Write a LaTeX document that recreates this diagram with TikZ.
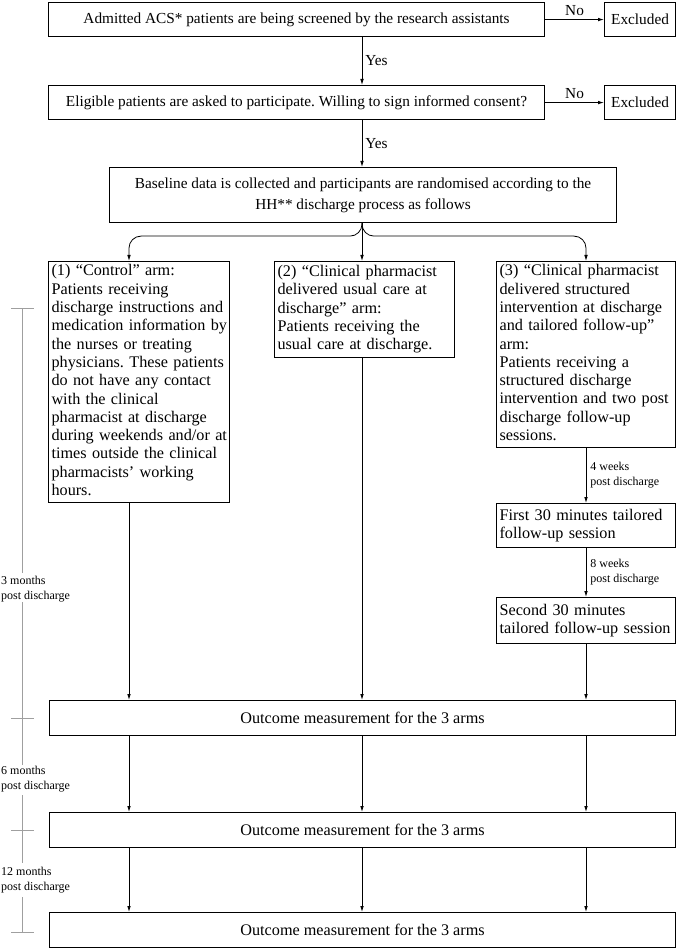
\documentclass[tikz,border=0pt]{standalone}
\usepackage{fontspec}
\setmainfont{Liberation Serif}
\usetikzlibrary{arrows.meta}
\frenchspacing
\newcommand\fa{\fontsize{15.3}{18.3}\selectfont}
\newcommand\fb{\fontsize{16.2}{18.3}\selectfont}
\newcommand\fsm{\fontsize{12}{15}\selectfont}
\newcommand\lines[1]{\begin{tabular}{@{}l@{}}#1\end{tabular}}
\begin{document}
\begin{tikzpicture}[x=1pt,y=-1pt,
 box/.style={draw, line width=1.1pt, inner sep=0pt, anchor=north west, align=center},
 armbox/.style={draw, line width=1.1pt, inner xsep=3pt, inner ysep=0pt, anchor=north west, align=left, font=\fb},
 arr/.style={-{Latex[length=6pt,width=3.6pt]}, line width=0.8pt},
 lbl/.style={font=\fsm, align=left, anchor=west, inner sep=0pt},
 yn/.style={font=\fa, inner sep=3pt},
 tl/.style={draw=gray!75, line width=0.8pt}]
\useasboundingbox (0,0) rectangle (676,949);
\coordinate (c1) at (129,0);
\coordinate (c2) at (362,0);
\coordinate (c3) at (586,0);
\node[box, font=\fa, minimum width=496pt, minimum height=34pt] (b1) at (48,2) {Admitted ACS* patients are being screened by the research assistants};
\node[box, font=\fa, minimum width=71pt, minimum height=34pt] (e1) at (604,2) {Excluded};
\node[box, font=\fa, minimum width=496pt, minimum height=34pt] (b2) at (48,85) {Eligible patients are asked to participate. Willing to sign informed consent?};
\node[box, font=\fa, minimum width=71pt, minimum height=34pt] (e2) at (604,85) {Excluded};
\node[box, font=\fa, minimum width=507pt, minimum height=55pt] (b3) at (109,167) {Baseline data is collected and participants are randomised according to the\\[2.5pt]HH** discharge process as follows};
\node[armbox, text width=175pt, minimum width=181pt, minimum height=241pt] (a1) at (48,261) {\lines{(1) “Control” arm:\\Patients receiving\\discharge instructions and\\medication information by\\the nurses or treating\\physicians. These patients\\do not have any contact\\with the clinical\\pharmacist at discharge\\during weekends and/or at\\times outside the clinical\\pharmacists’ working\\hours.}};
\node[armbox, text width=174pt, minimum width=180pt, minimum height=96pt] (a2) at (274,261) {\lines{(2) “Clinical pharmacist\\delivered usual care at\\discharge” arm:\\Patients receiving the\\usual care at discharge.}};
\node[armbox, text width=173pt, minimum width=179pt, minimum height=186pt] (a3) at (496,261) {\lines{(3) “Clinical pharmacist\\delivered structured\\intervention at discharge\\and tailored follow-up”\\arm:\\Patients receiving a\\structured discharge\\intervention and two post\\discharge follow-up\\sessions.}};
\node[armbox, text width=173pt, minimum width=179pt, minimum height=44pt] (f1) at (496,503) {\lines{First 30 minutes tailored\\follow-up session}};
\node[armbox, text width=173pt, minimum width=179pt, minimum height=46pt] (f2) at (496,597) {\lines{Second 30 minutes\\tailored follow-up session}};
\node[box, font=\fb, minimum width=626pt, minimum height=35pt] (o1) at (49,700) {Outcome measurement for the 3 arms};
\node[box, font=\fb, minimum width=626pt, minimum height=35pt] (o2) at (49,812) {Outcome measurement for the 3 arms};
\node[box, font=\fb, minimum width=626pt, minimum height=35pt] (o3) at (49,912) {Outcome measurement for the 3 arms};
% connectors
\draw[arr] (b1.east) -- (e1.west) node[midway, above, yn] {No};
\draw[arr] (b2.east) -- (e2.west) node[midway, above, yn] {No};
\draw[arr] (b1.south -| c2) -- (b2.north -| c2) node[midway, right, yn] {Yes};
\draw[arr] (b2.south -| c2) -- (b3.north -| c2) node[midway, right, yn] {Yes};
\draw[arr, rounded corners=12pt] (b3.south -| c2) -- ++(0,13) -| (a1.north -| c1);
\draw[arr, rounded corners=12pt] (b3.south -| c2) -- ++(0,13) -| (a3.north -| c3);
\draw[arr] (b3.south -| c2) -- (a2.north -| c2);
\draw[arr] (a3.south -| c3) -- (f1.north -| c3) node[midway, right=4pt, lbl] {4 weeks\\post discharge};
\draw[arr] (f1.south -| c3) -- (f2.north -| c3) node[midway, right=4pt, lbl] {8 weeks\\post discharge};
\draw[arr] (a1.south -| c1) -- (o1.north -| c1);
\draw[arr] (a2.south -| c2) -- (o1.north -| c2);
\draw[arr] (f2.south -| c3) -- (o1.north -| c3);
\draw[arr] (o1.south -| c1) -- (o2.north -| c1);
\draw[arr] (o1.south -| c2) -- (o2.north -| c2);
\draw[arr] (o1.south -| c3) -- (o2.north -| c3);
\draw[arr] (o2.south -| c1) -- (o3.north -| c1);
\draw[arr] (o2.south -| c2) -- (o3.north -| c2);
\draw[arr] (o2.south -| c3) -- (o3.north -| c3);
% timeline
\draw[tl] (22,308) -- (22,573) (22,602) -- (22,765) (22,795) -- (22,863) (22,897) -- (22,932);
\draw[tl] (11,308) -- (34,308) (11,718) -- (34,718) (11,830) -- (34,830) (11,932) -- (34,932);
\node[lbl] (m3) at (1,589) {3 months\\post discharge};
\node[lbl] (m6) at (1,779) {6 months\\post discharge};
\node[lbl] (m12) at (1,880) {12 months\\post discharge};
\end{tikzpicture}
\end{document}
